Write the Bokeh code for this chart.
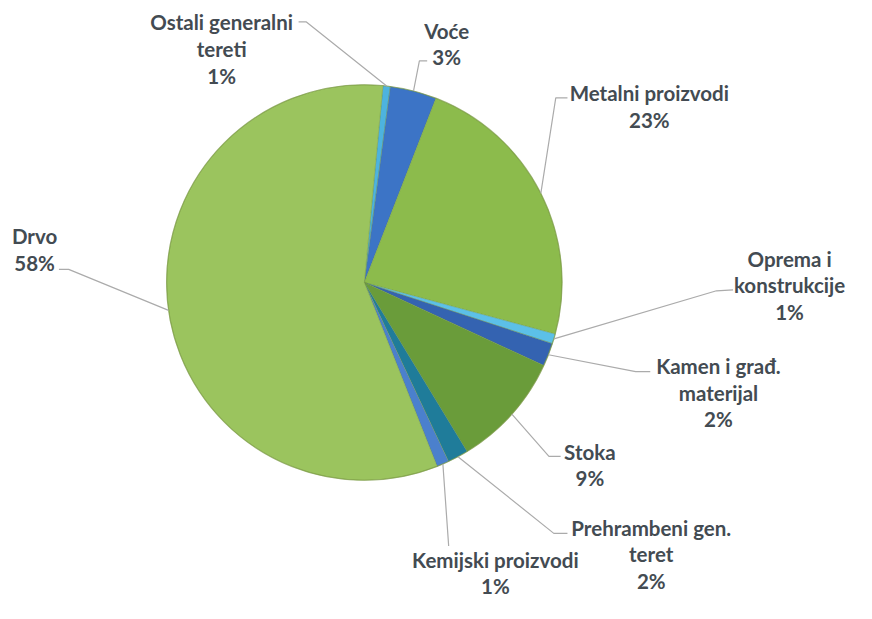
import math
from bokeh.plotting import figure
from bokeh.models import Range1d, ColumnDataSource
from bokeh.core.properties import value
from bokeh.embed import file_html
from bokeh.resources import INLINE

# ---- data (clockwise from the first slice) ----
categories = ["Ostali generalni tereti", "Voće", "Metalni proizvodi", "Oprema i konstrukcije",
              "Kamen i građ. materijal", "Stoka", "Prehrambeni gen. teret", "Kemijski proizvodi", "Drvo"]
shares = [0.6, 3.8, 23.3, 0.8, 1.9, 9.4, 1.7, 1.0, 57.5]
label_lines = [["Ostali generalni", "tereti", "1%"],
               ["Voće", "3%"],
               ["Metalni proizvodi", "23%"],
               ["Oprema i", "konstrukcije", "1%"],
               ["Kamen i građ.", "materijal", "2%"],
               ["Stoka", "9%"],
               ["Prehrambeni gen.", "teret", "2%"],
               ["Kemijski proizvodi", "1%"],
               ["Drvo", "58%"]]
colors = ["#4DB3DF", "#3C74C6", "#8CBB4C", "#5CC0E8", "#3463B1", "#6A9C3A", "#1F7C9A", "#4B80CD", "#9BC45E"]

# ---- layout (reference pixel space 872x619, drawn into 856x603) ----
W, H = 856, 603
REF_W, REF_H = 872, 619
S = H / REF_H
FLIP = REF_H
CX, CY = 373.5, FLIP - 289.5
R = 203
START_DEG = 5.4  # clockwise from 12 o'clock

label_pos = [(227, 22), (458, 31), (666, 95), (810, 265), (737, 375),
             (605, 463), (668, 541), (508, 574), (35, 242)]
leader_end = [[(306, 22), (314, 22)], [(438, 62), (430, 62)], [(582, 100), (570, 100)],
              [(752, 297), (735, 298)], [(667, 381), (652, 381)], [(575, 468), (563, 468)],
              [(582, 547), (568, 547)], [(460, 560), (460, 559)], [(60, 276), (70, 276)]]
LINE_GAP = 27.5
FONT_PX = 21 * S

p = figure(width=W, height=H, output_backend="svg", toolbar_location=None,
           x_range=Range1d(0, W / S), y_range=Range1d(0, REF_H),
           min_border=0, outline_line_color=None)
p.axis.visible = False
p.grid.visible = False
p.background_fill_color = "white"
p.border_fill_color = "white"

total = sum(shares)
starts, ends, mids = [], [], []
acc = START_DEG
for s in shares:
    a0 = acc
    a1 = acc + s / total * 360.0
    starts.append(math.radians(90 - a0))
    ends.append(math.radians(90 - a1))
    mids.append((a0 + a1) / 2)
    acc = a1

src = ColumnDataSource(dict(start=starts, end=ends, color=colors, cat=categories))
p.wedge(x=CX, y=CY, radius=R, start_angle="start", end_angle="end", direction="clock",
        fill_color="color", line_color="#6E8F3A", line_alpha=0.35, line_width=1, source=src)
p.circle(x=CX, y=CY, radius=R, fill_color=None, line_color="#7C9A45", line_width=1.2, line_alpha=0.6)

# leader lines
for i, m in enumerate(mids):
    th = math.radians(m)
    px = CX + R * math.sin(th)
    py = CY + R * math.cos(th)
    (x1, y1), (x2, y2) = leader_end[i]
    p.line([x1, x2, px], [FLIP - y1, FLIP - y2, py], line_color="#ABABAB", line_width=1.2)

# labels
for i, lines in enumerate(label_lines):
    lx, ly = label_pos[i]
    xs = [lx] * len(lines)
    ys = [FLIP - (ly + k * LINE_GAP) for k in range(len(lines))]
    p.text(x=xs, y=ys, text=lines, text_align="center", text_baseline="middle",
           text_font=value("Lato"), text_font_style="bold", text_font_size=f"{FONT_PX:.1f}px",
           text_color="#434B52")

open("out.html", "w").write(file_html(p, INLINE))
